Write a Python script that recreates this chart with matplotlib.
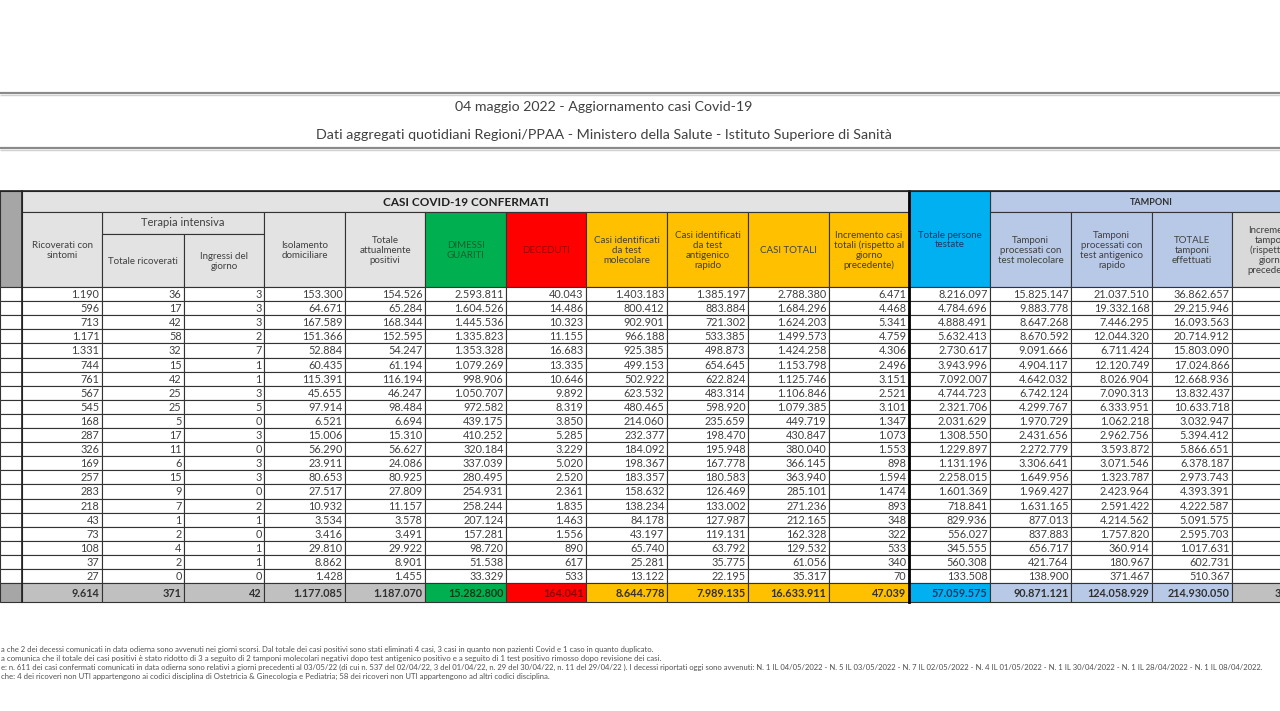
import matplotlib
matplotlib.use("Agg")
import matplotlib.pyplot as plt
from matplotlib.patches import Rectangle

# ---------------- data ----------------
ricoverati = [1190, 596, 713, 1171, 1331, 744, 761, 567, 545, 168, 287, 326, 169, 257, 283, 218, 43, 73, 108, 37, 27]
ti_totale = [36, 17, 42, 58, 32, 15, 42, 25, 25, 5, 17, 11, 6, 15, 9, 7, 1, 2, 4, 2, 0]
ti_ingressi = [3, 3, 3, 2, 7, 1, 1, 3, 5, 0, 3, 0, 3, 3, 0, 2, 1, 0, 1, 1, 0]
isolamento = [153300, 64671, 167589, 151366, 52884, 60435, 115391, 45655, 97914, 6521, 15006, 56290,
              23911, 80653, 27517, 10932, 3534, 3416, 29810, 8862, 1428]
tot_positivi = [154526, 65284, 168344, 152595, 54247, 61194, 116194, 46247, 98484, 6694, 15310, 56627,
                24086, 80925, 27809, 11157, 3578, 3491, 29922, 8901, 1455]
guariti = [2593811, 1604526, 1445536, 1335823, 1353328, 1079269, 998906, 1050707, 972582, 439175, 410252,
           320184, 337039, 280495, 254931, 258244, 207124, 157281, 98720, 51538, 33329]
deceduti = [40043, 14486, 10323, 11155, 16683, 13335, 10646, 9892, 8319, 3850, 5285, 3229, 5020, 2520,
            2361, 1835, 1463, 1556, 890, 617, 533]
casi_molecolare = [1403183, 800412, 902901, 966188, 925385, 499153, 502922, 623532, 480465, 214060, 232377,
                   184092, 198367, 183357, 158632, 138234, 84178, 43197, 65740, 25281, 13122]
casi_antigenico = [1385197, 883884, 721302, 533385, 498873, 654645, 622824, 483314, 598920, 235659, 198470,
                   195948, 167778, 180583, 126469, 133002, 127987, 119131, 63792, 35775, 22195]
casi_totali = [2788380, 1684296, 1624203, 1499573, 1424258, 1153798, 1125746, 1106846, 1079385, 449719,
               430847, 380040, 366145, 363940, 285101, 271236, 212165, 162328, 129532, 61056, 35317]
incremento_casi = [6471, 4468, 5341, 4759, 4306, 2496, 3151, 2521, 3101, 1347, 1073, 1553, 898, 1594, 1474,
                   893, 348, 322, 533, 340, 70]
persone_testate = [8216097, 4784696, 4888491, 5632413, 2730617, 3943996, 7092007, 4744723, 2321706, 2031629,
                   1308550, 1229897, 1131196, 2258015, 1601369, 718841, 829936, 556027, 345555, 560308, 133508]
tamp_molecolare = [15825147, 9883778, 8647268, 8670592, 9091666, 4904117, 4642032, 6742124, 4299767, 1970729,
                   2431656, 2272779, 3306641, 1649956, 1969427, 1631165, 877013, 837883, 656717, 421764, 138900]
tamp_antigenico = [21037510, 19332168, 7446295, 12044320, 6711424, 12120749, 8026904, 7090313, 6333951,
                   1062218, 2962756, 3593872, 3071546, 1323787, 2423964, 2591422, 4214562, 1757820, 360914,
                   180967, 371467]
tamp_totale = [36862657, 29215946, 16093563, 20714912, 15803090, 17024866, 12668936, 13832437, 10633718,
               3032947, 5394412, 5866651, 6378187, 2973743, 4393391, 4222587, 5091575, 2595703, 1017631,
               602731, 510367]
totali = [9614, 371, 42, 1177085, 1187070, 15282800, 164041, 8644778, 7989135, 16633911, 47039,
          57059575, 90871121, 124058929, 214930050]

header_labels = ["Ricoverati con\nsintomi", "Totale ricoverati", "Ingressi del\ngiorno",
                 "Isolamento\ndomiciliare", "Totale\nattualmente\npositivi", "DIMESSI\nGUARITI", "DECEDUTI",
                 "Casi identificati\nda test\nmolecolare", "Casi identificati\nda test\nantigenico\nrapido",
                 "CASI TOTALI", "Incremento casi\ntotali (rispetto al\ngiorno\nprecedente)",
                 "Totale persone\ntestate", "Tamponi\nprocessati con\ntest molecolare",
                 "Tamponi\nprocessati con\ntest antigenico\nrapido", "TOTALE\ntamponi\neffettuati",
                 "Incremento\ntamponi\n(rispetto al\ngiorno\nprecedente)"]

title1 = "04 maggio 2022 - Aggiornamento casi Covid-19"
title2 = "Dati aggregati quotidiani Regioni/PPAA - Ministero della Salute - Istituto Superiore di Sanità"
notes = [
    "a che 2 dei decessi comunicati in data odierna sono avvenuti nei giorni scorsi. Dal totale dei casi positivi sono stati eliminati 4 casi, 3 casi in quanto non pazienti Covid e 1 caso in quanto duplicato.",
    "a comunica che il totale dei casi positivi è stato ridotto di 3 a seguito di 2 tamponi molecolari negativi dopo test antigenico positivo e a seguito di 1 test positivo rimosso dopo revisione dei casi.",
    "e: n. 611 dei casi confermati comunicati in data odierna sono relativi a giorni precedenti al 03/05/22 (di cui n. 537 del 02/04/22, 3 del 01/04/22, n. 29 del 30/04/22, n. 11 del 29/04/22 ). I decessi riportati oggi sono avvenuti: N. 1 IL 04/05/2022 - N. 5 IL 03/05/2022 - N. 7 IL 02/05/2022 - N. 4 IL 01/05/2022 - N. 1 IL 30/04/2022 - N. 1 IL 28/04/2022 - N. 1 IL 08/04/2022.",
    "che: 4 dei ricoveri non UTI appartengono ai codici disciplina di Ostetricia & Ginecologia e Pediatria; 58 dei ricoveri non UTI appartengono ad altri codici disciplina.",
]
notes_width = [657, 660, 1268, 553]

columns = [ricoverati, ti_totale, ti_ingressi, isolamento, tot_positivi, guariti, deceduti,
           casi_molecolare, casi_antigenico, casi_totali, incremento_casi, persone_testate,
           tamp_molecolare, tamp_antigenico, tamp_totale]

# ---------------- layout ----------------
FONT = "Lato"
plt.rcParams['font.family'] = [FONT, 'DejaVu Sans']
W, H = 1280, 711
fig = plt.figure(figsize=(12.8, 7.11), dpi=100)
ax = fig.add_axes([0, 0, 1, 1])
ax.set_xlim(0, W)
ax.set_ylim(H, 0)
ax.axis("off")

edges = [0, 22, 102, 184, 264, 345, 425, 506, 586, 667, 748, 829, 909, 990, 1071, 1152, 1232, 1313]
y_top, y_h1, y_ti, y_hdr = 191, 212, 234, 287
nrows = len(ricoverati)
row_h = 14.1
y_tot = y_hdr + nrows * row_h
y_end = 602
LINE = "#333333"
TXT = "#404040"

GRAY_H = "#e4e3e3"
DGRAY = "#a6a6a6"
TOTG = "#c0c0c0"
GREEN = "#00b050"
RED = "#ff0000"
YEL = "#ffc000"
BLUE = "#00b0f0"
LAV = "#b8c9e8"
LGRAY = "#d9d9d9"


def fmt(v):
    return f"{v:,}".replace(",", ".")


def rect(x0, y0, x1, y1, fc, ec=LINE, lw=0.8, z=1):
    ax.add_patch(Rectangle((x0, y0), x1 - x0, y1 - y0, facecolor=fc, edgecolor=ec, lw=lw, zorder=z))


def fit_text(x, y, s, width, ha="left", **kw):
    t = ax.text(x, y, s, ha=ha, va="center", **kw)
    fig.canvas.draw()
    bb = t.get_window_extent()
    fs = t.get_fontsize() * width / bb.width
    t.set_fontsize(fs)
    return t


# title lines
for yy in (93, 148):
    ax.plot([0, W], [yy, yy], color="#8a8a8a", lw=1.6, zorder=2, solid_capstyle="butt")
    ax.plot([0, W], [yy + 2, yy + 2], color="#d0d0d0", lw=1.0, zorder=2, solid_capstyle="butt")
fit_text(603.5, 107, title1, 297, ha="center", color="#404040", fontsize=10)
fit_text(603.5, 135, title2, 577, ha="center", color="#404040", fontsize=10)

# header
rect(0, y_top, edges[1], y_hdr, DGRAY)
rect(edges[1], y_top, edges[12], y_h1, GRAY_H)
ax.text((edges[1] + edges[12]) / 2, (y_top + y_h1) / 2 + 1, "CASI COVID-19 CONFERMATI", ha="center",
        va="center", fontsize=8.5, fontweight="bold", color="#202020")
rect(edges[12], y_top, edges[13], y_hdr, BLUE)
rect(edges[13], y_top, edges[17], y_h1, LAV)
ax.text((edges[13] + edges[17]) / 2, (y_top + y_h1) / 2 + 1, "TAMPONI", ha="center", va="center",
        fontsize=6.5, fontweight="bold", color="#303030")
# Terapia intensiva
rect(edges[2], y_h1, edges[4], y_ti, GRAY_H)
ax.text((edges[2] + edges[4]) / 2, (y_h1 + y_ti) / 2, "Terapia intensiva", ha="center", va="center",
        fontsize=8, color=TXT)

hdr_fc = [GRAY_H] * 5 + [GREEN, RED] + [YEL] * 4 + [BLUE] + [LAV] * 3 + [LGRAY]
hdr_tc = [TXT] * 5 + ["#1d5c2b", "#9a0000"] + [TXT] * 4 + ["#1f3864"] + [TXT] * 4
for j, lab in enumerate(header_labels):
    x0, x1 = edges[j + 1], edges[j + 2]
    y0 = y_ti if j in (1, 2) else (y_top if j == 11 else y_h1)
    rect(x0, y0, x1, y_hdr, hdr_fc[j])
    ax.text((x0 + x1) / 2, (y0 + y_hdr) / 2 + 1, lab, ha="center", va="center", fontsize=7.0,
            color=hdr_tc[j], linespacing=1.1, zorder=3)

# body
for i in range(nrows):
    ya = y_hdr + i * row_h
    yb = ya + row_h
    rect(0, ya, edges[1], yb, "white")
    for j in range(16):
        rect(edges[j + 1], ya, edges[j + 2], yb, "white")
    for j, col in enumerate(columns):
        ax.text(edges[j + 2] - 2.5, ya + row_h / 2 + 0.5, fmt(col[i]), ha="right", va="center",
                fontsize=7.8, color=TXT, zorder=3)

# totals row
tot_fc = [TOTG] * 5 + [GREEN, RED] + [YEL] * 4 + [BLUE] + [LAV] * 3 + [TOTG]
tot_tc = ["#303030"] * 5 + ["#103a18", "#8a0000"] + ["#303030"] * 4 + ["#1f3864"] + ["#303030"] * 4
rect(0, y_tot, edges[1], y_end, DGRAY)
for j in range(16):
    rect(edges[j + 1], y_tot, edges[j + 2], y_end, tot_fc[j])
for j, v in enumerate(totali):
    ax.text(edges[j + 2] - 2.5, (y_tot + y_end) / 2 + 0.5, fmt(v), ha="right", va="center", fontsize=7.8,
            fontweight="bold", color=tot_tc[j], zorder=3)
ax.text(edges[16] + 43, (y_tot + y_end) / 2 + 0.5, "3", ha="left", va="center", fontsize=7.8,
        fontweight="bold", color="#303030", zorder=3)

# thick separators
ax.plot([edges[12], edges[12]], [y_top, y_end], color="#000000", lw=2.0, zorder=4)
ax.plot([edges[1], edges[1]], [y_top, y_end], color="#222222", lw=1.2, zorder=4)
ax.plot([0, W], [y_top, y_top], color="#222222", lw=1.2, zorder=4)

# footnotes
for k, (s, wdt) in enumerate(zip(notes, notes_width)):
    fit_text(1, 649 + k * 9, s, wdt, ha="left", color="#505050", fontsize=5)

fig.savefig("out.png", dpi=100)
